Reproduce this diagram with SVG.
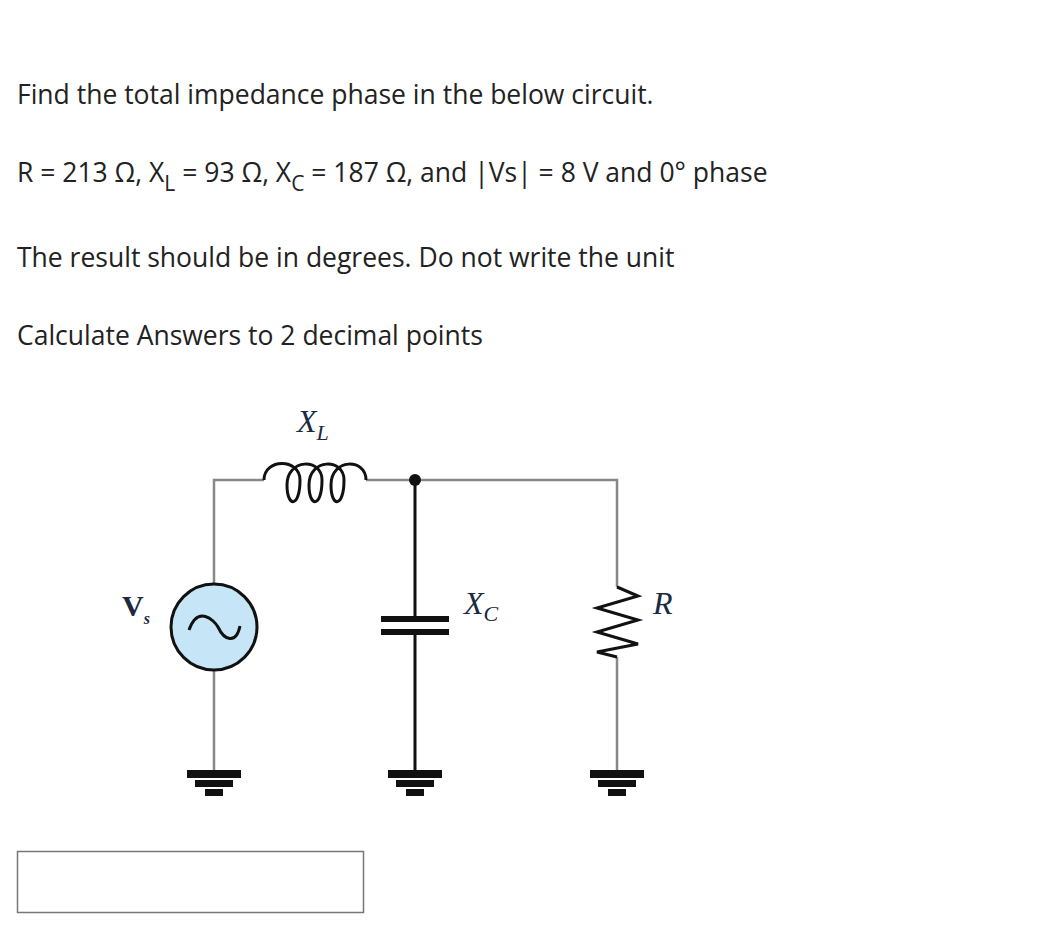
<svg xmlns="http://www.w3.org/2000/svg" width="1040" height="943" viewBox="0 0 1040 943">
<style>
.t{font-family:"Open Sans","Noto Sans",sans-serif;font-size:26.5px;fill:#222}
.s{font-family:"Open Sans","Noto Sans",sans-serif;font-size:21px;fill:#222}
.w{stroke:#888;stroke-width:2.5;fill:none}
.k{stroke:#111;stroke-width:3;fill:none}
.l{font-family:"Liberation Serif",serif;font-style:italic;fill:#1a2a40}
.g{fill:#111}
</style>
<defs>
<g id="gnd"><rect x="-27" y="0" width="54" height="8" class="g"/><rect x="-19" y="10" width="38" height="7" class="g"/><rect x="-9" y="19" width="18" height="7" class="g"/></g>
</defs>
<rect width="1040" height="943" fill="#fff"/>
<text class="t" x="17" y="104">Find the total impedance phase in the below circuit.</text>
<text class="t" x="17" y="182">R = 213 Ω, X<tspan class="s" dy="9">L</tspan><tspan dy="-9"> = 93 Ω, X</tspan><tspan class="s" dy="9">C</tspan><tspan dy="-9"> = 187 Ω, and |Vs| = 8 V and 0° phase</tspan></text>
<text class="t" x="17" y="267">The result should be in degrees. Do not write the unit</text>
<text class="t" x="17" y="345">Calculate Answers to 2 decimal points</text>
<g id="connectors">
<path class="w" d="M214 584 V480 H264 M366 480 H617 V587 M617 657 V770 M214 670 V770"/>
<path class="k" d="M415 480 V619 M415 632 V770" stroke-width="2.5"/>
</g>
<g id="inductor"><path class="k" d="M264 480 C264 458 300 458 300 480 C300 508 287 508 287 485 C287 458 322 458 322 480 C322 508 309 508 309 485 C309 458 344 458 344 480 C344 508 331 508 331 485 C331 458 366 458 366 480"/>
<text class="l" x="297" y="432" font-size="32">X<tspan font-size="22" dy="8">L</tspan></text></g>
<g id="node"><circle cx="415" cy="480" r="6" class="g"/></g>
<g id="source"><circle cx="214" cy="627" r="43" fill="#c6e6f8" stroke="#111" stroke-width="3"/><path class="k" d="M189 630 C198 605 214 620 218 627 C224 640 236 645 240 626"/>
<text x="122" y="616" font-family="Liberation Serif,serif" font-weight="bold" font-size="30" fill="#1a2a40">V<tspan font-size="16" dy="8" font-style="italic">s</tspan></text></g>
<g id="capacitor"><rect x="381" y="616" width="68" height="6" class="g"/><rect x="381" y="629" width="68" height="6" class="g"/>
<text class="l" x="464" y="614" font-size="32">X<tspan font-size="22" dy="7">C</tspan></text></g>
<g id="resistor"><path class="k" d="M617 587 L638 596 L597 608 L638 620 L597 632 L638 644 L597 652 L617 657"/>
<text class="l" x="653" y="614" font-size="32">R</text></g>
<use href="#gnd" x="214" y="770"/><use href="#gnd" x="415" y="770"/><use href="#gnd" x="617" y="770"/>
<rect id="answer" x="17.5" y="851.5" width="346" height="61" fill="#fff" stroke="#777" stroke-width="1.5"/>
</svg>
